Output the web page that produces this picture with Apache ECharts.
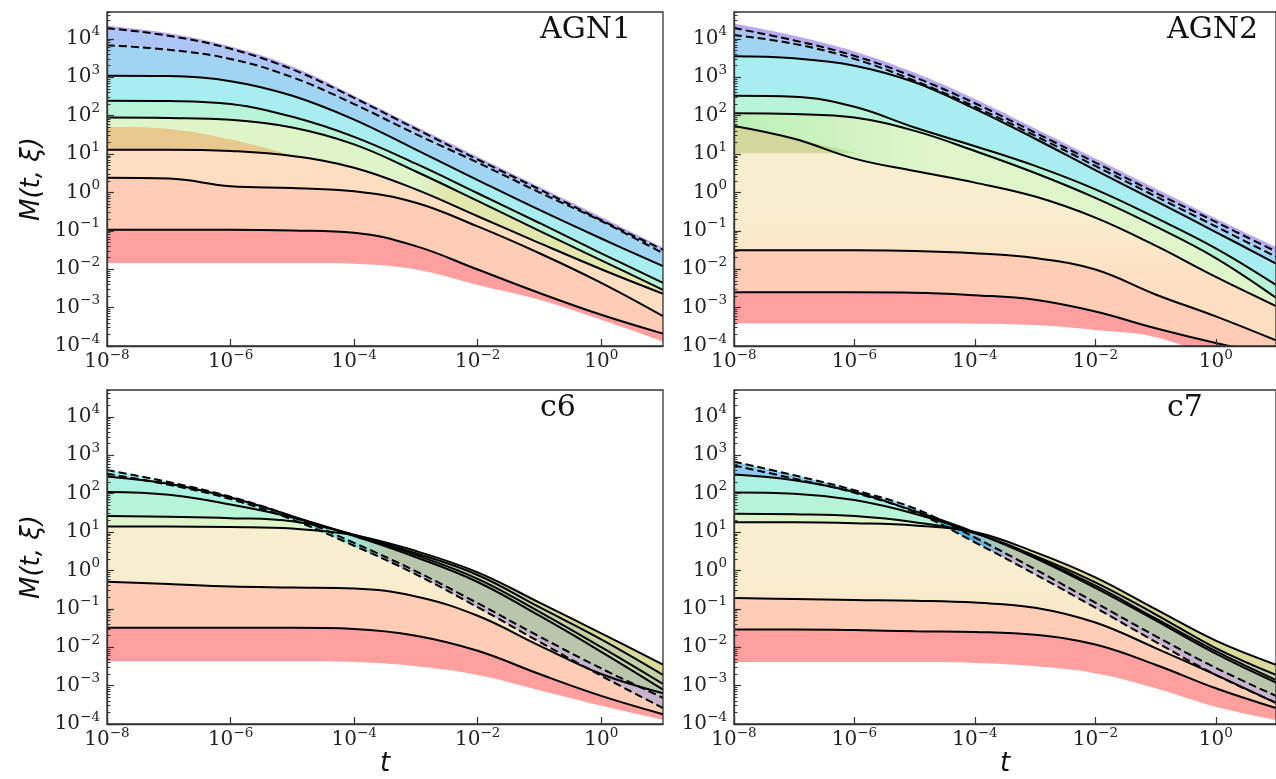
<!DOCTYPE html>
<html>
<head>
<meta charset="utf-8">
<script src="https://cdn.jsdelivr.net/npm/echarts@6/dist/echarts.min.js"></script>
<style>
  html, body { margin: 0; padding: 0; background: #fff; }
  #chart { width: 1276px; height: 779px; }
</style>
</head>
<body>
<div id="chart"></div>
<script>
// sample times (one per decade)
const tGrid = [1e-8, 1e-7, 1e-6, 1e-5, 1e-4, 1e-3, 1e-2, 1e-1, 1, 10];

// AGN1
const agn1Top = [2.2e4, 1.4e4, 6.3e3, 1.9e3, 330, 52, 8.5, 1.4, 0.23, 0.037];
const agn1D1 = [1.9e4, 1.2e4, 5.5e3, 1.6e3, 290, 45, 7.2, 1.2, 0.19, 0.032];
const agn1D2 = [6.8e3, 5.2e3, 3.0e3, 1.0e3, 200, 33, 6.0, 1.0, 0.18, 0.026];
const agn1S1 = [1.1e3, 1.07e3, 790, 330, 79, 13, 2.1, 0.35, 0.063, 0.012];
const agn1S2 = [245, 240, 200, 93, 28, 5.6, 0.95, 0.16, 0.026, 0.0044];
const agn1S3 = [89, 87, 78, 49, 17.8, 3.5, 0.60, 0.10, 0.017, 0.0029];
const agn1S4 = [13, 13, 12, 8.9, 4.4, 1.2, 0.24, 0.048, 0.010, 0.0023];
const agn1S5 = [2.4, 2.3, 1.45, 1.3, 1.07, 0.54, 0.13, 0.026, 0.0044, 6.0e-4];
const agn1S6 = [0.107, 0.107, 0.107, 0.102, 0.089, 0.040, 0.0098, 0.0024, 6.5e-4, 2.1e-4];
const agn1Bottom = [0.0145, 0.0145, 0.0145, 0.0145, 0.0138, 0.0098, 0.0039, 0.0016, 4.8e-4, 1.3e-4];
const agn1Wedge = [50, 45, 24, 9.3, null, null, null, null, null, null];

// AGN2
const agn2Top = [2.5e4, 1.2e4, 4.7e3, 1.3e3, 270, 46, 7.6, 1.26, 0.21, 0.038];
const agn2D1 = [1.9e4, 9.1e3, 3.6e3, 1.0e3, 210, 36, 6.0, 0.98, 0.17, 0.029];
const agn2D2 = [1.26e4, 7.4e3, 3.0e3, 810, 170, 30, 4.9, 0.79, 0.13, 0.021];
const agn2S1 = [3.5e3, 3.1e3, 2.0e3, 740, 150, 25, 3.8, 0.60, 0.093, 0.014];
const agn2S2 = [330, 310, 170, 49, 16, 4.9, 1.2, 0.22, 0.035, 0.0039];
const agn2S3 = [115, 110, 89, 40, 12, 3.2, 0.72, 0.13, 0.0195, 0.0018];
const agn2S4 = [54, 25, 7.6, 3.6, 1.8, 0.78, 0.22, 0.041, 0.0063, 0.0011];
const agn2S5 = [0.031, 0.031, 0.031, 0.030, 0.026, 0.0195, 0.0098, 0.0022, 5.9e-4, 1.4e-4];
const agn2S6 = [0.0025, 0.0025, 0.0025, 0.00245, 0.0021, 0.0016, 7.9e-4, 2.9e-4, 1.2e-4, 5.6e-5];
const agn2Bottom = [3.9e-4, 3.9e-4, 3.9e-4, 3.9e-4, 3.8e-4, 3.5e-4, 2.6e-4, 1.7e-4, 5.0e-5, 1.6e-5];
const agn2WedgeTop = [54, 25, 11, null, null, null, null, null, null, null];
const agn2WedgeLow = [10.5, 10.5, 10.5, null, null, null, null, null, null, null];

// c6
const c6D1 = [410, 200, 83, 25, 5.2, 0.95, 0.14, 0.019, 0.0028, 4.8e-4];
const c6D2 = [330, 170, 72, 21, 4.4, 0.79, 0.11, 0.0138, 0.0018, 2.6e-4];
const c6S1 = [280, 180, 79, 26, 7.9, 2.2, 0.5, 0.066, 0.0076, 7.9e-4];
const c6S2 = [110, 93, 52, 24, 8.3, 2.5, 0.6, 0.083, 0.010, 0.0011];
const c6S3 = [26, 25, 23, 19, 8.5, 2.8, 0.76, 0.11, 0.016, 0.0019];
const c6S4 = [14, 14, 13.5, 12.3, 8.3, 3.2, 0.89, 0.145, 0.023, 0.0035];
const c6S5 = [0.51, 0.44, 0.38, 0.36, 0.34, 0.21, 0.066, 0.011, 0.002, 6.3e-4];
const c6S6 = [0.032, 0.032, 0.032, 0.032, 0.030, 0.020, 0.0081, 0.002, 5.4e-4, 1.8e-4];
const c6Bottom = [0.0043, 0.0043, 0.0043, 0.0043, 0.0041, 0.0032, 0.0019, 7.6e-4, 3.0e-4, 1.3e-4];

// c7
const c7D1 = [680, 300, 123, 41, 7.2, 1.07, 0.145, 0.0195, 0.0029, 5.4e-4];
const c7D2 = [540, 245, 105, 33, 5.4, 0.79, 0.107, 0.0138, 0.0019, 3.6e-4];
const c7S1 = [316, 224, 110, 35, 9.8, 2.1, 0.35, 0.05, 0.0068, 0.0012];
const c7S2 = [107, 100, 68, 30, 9.5, 2.2, 0.4, 0.056, 0.0079, 0.0014];
const c7S3 = [30, 29, 26, 18, 9.3, 2.4, 0.49, 0.072, 0.0095, 0.0019];
const c7S4 = [18, 18, 17, 14.8, 10, 3.0, 0.66, 0.098, 0.0148, 0.0035];
const c7S5 = [0.19, 0.18, 0.17, 0.162, 0.145, 0.107, 0.044, 0.0095, 0.0019, 3.5e-4];
const c7S6 = [0.029, 0.029, 0.028, 0.026, 0.025, 0.021, 0.0117, 0.0035, 8.5e-4, 2.6e-4];
const c7Bottom = [0.0041, 0.0041, 0.0041, 0.0041, 0.0039, 0.0032, 0.0021, 8.5e-4, 2.8e-4, 1.26e-4];

// ticks
const xTicks = [1e-8, 1e-6, 1e-4, 1e-2, 1];
const yTicks = [1e-4, 1e-3, 1e-2, 1e-1, 1, 10, 100, 1e3, 1e4];
const yMinor = [];
for (let e = -4; e <= 4; e++) {
  for (let k = 2; k <= 9; k++) {
    if (k * Math.pow(10, e) <= 5e4) yMinor.push(k * Math.pow(10, e));
  }
}

// band colours (semi transparent, like the stacked fills)
const C = {
  purple: 'rgba(113,81,225,0.5)',
  blue: 'rgba(90,140,235,0.5)',
  sky: 'rgba(65,169,229,0.5)',
  deepSky: 'rgba(40,160,230,0.55)',
  cyan: 'rgba(81,221,225,0.5)',
  aqua: 'rgba(90,230,200,0.5)',
  mint: 'rgba(113,235,177,0.5)',
  pale: 'rgba(190,235,150,0.5)',
  cream: 'rgba(240,222,160,0.5)',
  peach: 'rgba(251,190,130,0.5)',
  salmon: 'rgba(255,155,107,0.5)',
  red: 'rgba(255,80,80,0.55)',
  tan: 'rgba(240,170,101,0.6)',
  olive: 'rgba(187,200,122,0.6)',
  // overlays for the crossing region on the right
  khaki: 'rgba(218,218,156,1)',
  grayGreen: 'rgba(198,208,166,1)',
  gray: 'rgba(186,198,172,1)',
  mauve: 'rgba(200,180,204,1)',
  yellowish: 'rgba(230,220,150,0.55)'
};
function hgrad(stops) {
  return { type: 'linear', x: 0, y: 0, x2: 1, y2: 0, colorStops: stops.map(s => ({ offset: s[0], color: s[1] })) };
}
function vgrad(stops) {
  return { type: 'linear', x: 0, y: 0, x2: 0, y2: 1, colorStops: stops.map(s => ({ offset: s[0], color: s[1] })) };
}
const greenToPale = hgrad([[0, 'rgba(120,225,110,0.5)'], [0.35, C.pale], [1, C.pale]]);
const creamAgn2 = vgrad([[0, C.cream], [0.4, C.cream], [0.75, C.peach], [1, C.peach]]);
const creamLow = vgrad([[0, C.cream], [0.3, C.cream], [0.8, C.peach], [1, C.peach]]);

// band = [upper, lower, colour, first index (optional, fades in)]
const panels = [
  {
    title: 'AGN1',
    dashed: [agn1D1, agn1D2],
    solid: [agn1S1, agn1S2, agn1S3, agn1S4, agn1S5, agn1S6],
    bands: [
      [agn1S6, agn1Bottom, C.red], [agn1S5, agn1S6, C.salmon], [agn1S4, agn1S5, C.peach],
      [agn1S3, agn1S4, C.pale], [agn1Wedge, agn1S4, C.tan], [agn1S3, agn1S4, C.yellowish, 5],
      [agn1S2, agn1S3, C.mint], [agn1S1, agn1S2, C.cyan], [agn1D2, agn1S1, C.sky],
      [agn1D1, agn1D2, C.blue], [agn1Top, agn1D1, C.purple]
    ]
  },
  {
    title: 'AGN2',
    dashed: [agn2D1, agn2D2],
    solid: [agn2S1, agn2S2, agn2S3, agn2S4, agn2S5, agn2S6],
    bands: [
      [agn2S6, agn2Bottom, C.red], [agn2S5, agn2S6, C.salmon], [agn2S4, agn2S5, creamAgn2],
      [agn2WedgeTop, agn2WedgeLow, C.olive], [agn2S3, agn2S4, greenToPale], [agn2S2, agn2S3, C.mint],
      [agn2S1, agn2S2, C.cyan], [agn2D2, agn2S1, C.sky], [agn2D1, agn2D2, C.blue],
      [agn2Top, agn2D1, C.purple]
    ]
  },
  {
    title: 'c6',
    dashed: [c6D1, c6D2],
    solid: [c6S1, c6S2, c6S3, c6S4, c6S5, c6S6],
    bands: [
      [c6S6, c6Bottom, C.red], [c6S5, c6S6, C.salmon], [c6S4, c6S5, creamLow],
      [c6S3, c6S4, C.pale], [c6S2, c6S3, C.mint], [c6S1, c6S2, C.aqua],
      [c6D2, c6S1, C.cyan], [c6D1, c6D2, C.cyan],
      [c6S4, c6S3, C.khaki, 4], [c6S3, c6S1, C.grayGreen, 4],
      [c6S1, c6D1, C.gray, 4], [c6D1, c6D2, C.mauve, 4]
    ]
  },
  {
    title: 'c7',
    dashed: [c7D1, c7D2],
    solid: [c7S1, c7S2, c7S3, c7S4, c7S5, c7S6],
    bands: [
      [c7S6, c7Bottom, C.red], [c7S5, c7S6, C.salmon], [c7S4, c7S5, creamLow],
      [c7S3, c7S4, C.pale], [c7S2, c7S3, C.mint], [c7S1, c7S2, C.aqua],
      [c7D2, c7S1, C.deepSky], [c7D1, c7D2, C.deepSky],
      [c7S4, c7S3, C.khaki, 4], [c7S3, c7S1, C.grayGreen, 4],
      [c7S1, c7D1, C.gray, 4], [c7D1, c7D2, C.mauve, 4]
    ]
  }
];

const grids = [
  { left: 107, top: 12, width: 556, height: 334 },
  { left: 734, top: 12, width: 556, height: 334 },
  { left: 107, top: 390, width: 556, height: 334 },
  { left: 734, top: 390, width: 556, height: 334 }
];

const SMOOTH = 0.4;

// same smoothing rule as the line series, so band edges sit under the lines
function smoothCmds(pts) {
  let d = '';
  let cpx0 = pts[0][0], cpy0 = pts[0][1];
  for (let i = 1; i < pts.length; i++) {
    const x = pts[i][0], y = pts[i][1];
    const px = pts[i - 1][0], py = pts[i - 1][1];
    let cpx1 = x, cpy1 = y, ncx = x, ncy = y;
    if (i + 1 < pts.length) {
      const nx = pts[i + 1][0], ny = pts[i + 1][1];
      const vx = nx - px, vy = ny - py;
      const l0 = Math.hypot(x - px, y - py);
      const l1 = Math.hypot(nx - x, ny - y);
      const r = l1 / (l0 + l1);
      ncx = x + vx * SMOOTH * r;
      ncy = y + vy * SMOOTH * r;
      cpx1 = x - vx * SMOOTH * (1 - r);
      cpy1 = y - vy * SMOOTH * (1 - r);
    }
    d += ' C' + cpx0 + ',' + cpy0 + ' ' + cpx1 + ',' + cpy1 + ' ' + x + ',' + y;
    cpx0 = ncx; cpy0 = ncy;
  }
  return d;
}

function fadeIn(color) {
  return hgrad([[0, color.replace(/[\d.]+\)$/, '0)')], [0.12, color], [1, color]]);
}

function powLabel(v) {
  const e = Math.round(Math.log10(v));
  return '{b|10}{s|' + (e < 0 ? '\u2212' + (-e) : e) + '}';
}
const tickRich = {
  b: { fontFamily: 'DejaVu Serif', fontSize: 20, color: '#222', lineHeight: 28 },
  s: { fontFamily: 'DejaVu Serif', fontSize: 13.5, color: '#222', verticalAlign: 'top' }
};
const axisColor = '#333';
const nameStyle = { fontFamily: 'DejaVu Sans', fontStyle: 'italic', fontSize: 26, color: '#111' };

const xAxis = [], yAxis = [], series = [], title = [];

grids.forEach((g, i) => {
  const p = panels[i];
  title.push({
    text: p.title, left: g.left + 433, top: g.top + 3, padding: 0,
    textStyle: { fontFamily: 'DejaVu Serif', fontSize: 30, fontWeight: 'normal', color: '#111' }
  });
  xAxis.push({
    type: 'log', logBase: 10, gridIndex: i, min: 1e-8, max: 10, z: 5,
    name: i >= 2 ? 't' : '', nameLocation: 'middle', nameGap: 26, nameTextStyle: nameStyle,
    axisLine: { show: true, lineStyle: { color: axisColor, width: 1.3 } },
    axisTick: { show: true, inside: true, length: 7, customValues: xTicks, lineStyle: { color: axisColor, width: 1.2 } },
    axisLabel: { customValues: xTicks, formatter: powLabel, rich: tickRich, margin: 2 },
    splitLine: { show: false }, minorTick: { show: false }
  });
  yAxis.push({
    type: 'log', logBase: 10, gridIndex: i, min: 1e-4, max: 5e4, position: 'left', z: 5,
    name: i % 2 === 0 ? 'M(t, \u03be)' : '', nameLocation: 'middle', nameGap: 62, nameTextStyle: nameStyle,
    axisLine: { show: true, lineStyle: { color: axisColor, width: 1.3 } },
    axisTick: { show: true, inside: true, length: 7, customValues: yTicks, lineStyle: { color: axisColor, width: 1.2 } },
    axisLabel: { customValues: yTicks, formatter: powLabel, rich: tickRich, margin: 7 },
    splitLine: { show: false }
  });
  yAxis.push({
    type: 'log', logBase: 10, gridIndex: i, min: 1e-4, max: 5e4, position: 'left', offset: 0, z: 5,
    axisLine: { show: false },
    axisTick: { show: true, inside: true, length: 3.5, customValues: yMinor, lineStyle: { color: axisColor, width: 1 } },
    axisLabel: { show: false },
    splitLine: { show: false }
  });

  series.push({
    type: 'custom', xAxisIndex: i, yAxisIndex: 2 * i, clip: true, z: 1, silent: true,
    data: p.bands.map((b, k) => [1, 1, k]),
    renderItem: (params, api) => {
      const b = p.bands[api.value(2)];
      const from = b[3] || 0;
      const up = [], lo = [];
      tGrid.forEach((t, k) => {
        if (k >= from && b[0][k] != null && b[1][k] != null) {
          up.push(api.coord([t, b[0][k]]));
          lo.push(api.coord([t, b[1][k]]));
        }
      });
      lo.reverse();
      const d = 'M' + up[0][0] + ',' + up[0][1] + smoothCmds(up) +
        ' L' + lo[0][0] + ',' + lo[0][1] + smoothCmds(lo) + ' Z';
      const fill = b[3] ? fadeIn(b[2]) : b[2];
      return { type: 'path', shape: { pathData: d }, style: { fill: fill } };
    }
  });

  const addLine = (arr, dashed) => series.push({
    type: 'line', xAxisIndex: i, yAxisIndex: 2 * i, z: 3, silent: true,
    data: tGrid.map((t, k) => [t, arr[k]]),
    smooth: SMOOTH, symbol: 'none',
    lineStyle: { color: '#000', width: 2, type: dashed ? [8, 4] : 'solid' }
  });
  p.solid.forEach(a => addLine(a, false));
  p.dashed.forEach(a => addLine(a, true));
});

const chart = echarts.init(document.getElementById('chart'), null, { renderer: 'canvas' });
chart.setOption({
  animation: false,
  backgroundColor: '#fff',
  title: title,
  grid: grids.map(g => Object.assign({ show: true, borderColor: axisColor, borderWidth: 1.3, z: 4 }, g)),
  xAxis: xAxis,
  yAxis: yAxis,
  series: series
});
</script>
</body>
</html>
